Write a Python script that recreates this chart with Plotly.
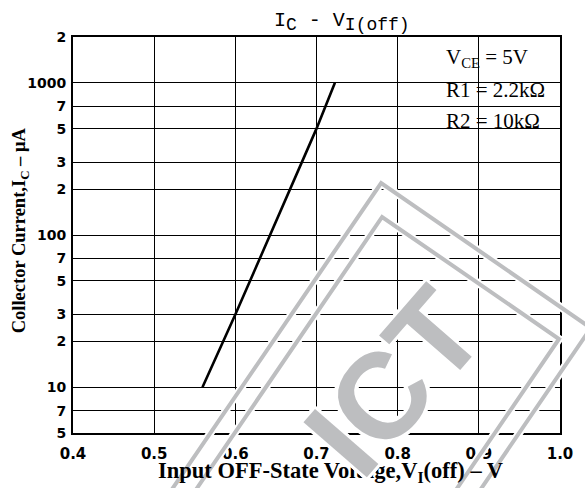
import plotly.graph_objects as go

# ---- data ----
v_off = [0.5595, 0.600, 0.700, 0.7227]   # Input OFF-state voltage (V)
ic_ua = [10, 30, 500, 1000]              # Collector current (uA)

x_ticks = [0.4, 0.5, 0.6, 0.7, 0.8, 0.9, 1.0]
x_tick_text = ["0.4", "0.5", "0.6", "0.7", "0.8", "0.9", "1.0"]
y_ticks = [5, 7, 10, 20, 30, 50, 70, 100, 200, 300, 500, 700, 1000, 2000]
y_tick_text = ["5", "7", "10", "2", "3", "5", "7", "100", "2", "3", "5", "7", "1000", "2"]

cond_lines = ["V<sub>CE</sub> = 5V", "R1 = 2.2kΩ", "R2 = 10kΩ"]

W, H = 585, 488
L, R, T, B = 73, 22, 37, 55
PW, PH = W - L - R, H - T - B


def px(xp):
    return (xp - L) / PW


def py(yp):
    return (H - B - yp) / PH


fig = go.Figure()
fig.add_trace(go.Scatter(x=v_off, y=ic_ua, mode="lines",
                         line=dict(color="black", width=2.6), showlegend=False))

fig.update_xaxes(range=[0.4, 1.0], tickvals=x_ticks, ticktext=x_tick_text,
                 showgrid=True, gridcolor="black", gridwidth=1.3,
                 showline=True, linecolor="black", linewidth=2, mirror=True,
                 ticks="", ticklabelstandoff=6,
                 tickfont=dict(family="DejaVu Sans", size=15, color="black", weight="bold"),
                 zeroline=False)
fig.update_yaxes(type="log", range=[0.69897, 3.30103], tickvals=y_ticks,
                 ticktext=y_tick_text,
                 showgrid=True, gridcolor="black", gridwidth=1.3,
                 showline=True, linecolor="black", linewidth=2, mirror=True,
                 ticks="", ticklabelstandoff=2,
                 tickfont=dict(family="DejaVu Sans", size=14, color="black", weight="bold"),
                 zeroline=False)

shapes = []
# white box behind the test conditions
shapes.append(dict(type="rect", xref="paper", yref="paper", x0=px(442), x1=1.0,
                   y0=py(135), y1=1.0, fillcolor="white", line=dict(width=0),
                   layer="between"))


def path(points):
    return "M " + " L ".join(f"{px(a):.4f},{py(b):.4f}" for a, b in points)


# watermark outlines (decorative)
outer = [(383 - 0.566 * 420, 183 + 0.824 * 420), (383, 183), (594, 328),
         (594 - 0.566 * 300, 328 + 0.824 * 300)]
inner = [(384 - 0.566 * 420, 217 + 0.824 * 420), (384, 217), (562, 339),
         (562 - 0.566 * 300, 339 + 0.824 * 300)]
for pts in (outer, inner):
    shapes.append(dict(type="path", xref="paper", yref="paper", path=path(pts),
                       line=dict(color="white", width=8), layer="above"))
    shapes.append(dict(type="path", xref="paper", yref="paper", path=path(pts),
                       line=dict(color="#bdbec0", width=4), layer="above"))

annotations = []
serif = "Liberation Serif"
annotations.append(dict(xref="paper", yref="paper", x=px(344), y=py(22),
                        xanchor="center", yanchor="middle",
                        text="I<sub><span style='font-size:18px'>C</span></sub> - "
                             "V<sub><span style='font-size:18px'>I(off)</span></sub>",
                        showarrow=False,
                        font=dict(family="Liberation Mono", size=20, color="black")))
annotations.append(dict(xref="paper", yref="paper", x=px(332), y=py(472),
                        xanchor="center", yanchor="middle",
                        text="Input OFF-State Voltage,V<sub>I</sub>(off) – V",
                        showarrow=False,
                        font=dict(family=serif, size=22.5, color="black", weight="bold")))
annotations.append(dict(xref="paper", yref="paper", x=px(20), y=py(230),
                        xanchor="center", yanchor="middle",
                        text="Collector Current,I<sub>C</sub> – μA", textangle=-90,
                        showarrow=False,
                        font=dict(family=serif, size=18.5, color="black", weight="bold")))
for txt, yp in zip(cond_lines, [58, 90, 121]):
    annotations.append(dict(xref="paper", yref="paper", x=px(446), y=py(yp),
                            xanchor="left", yanchor="middle", text=txt, showarrow=False,
                            font=dict(family=serif, size=21, color="black")))
# watermark letters (decorative)
annotations.append(dict(xref="paper", yref="paper", x=px(396), y=py(382),
                        xanchor="center", yanchor="middle",
                        text="ICT", textangle=-49, showarrow=False,
                        font=dict(family="Liberation Sans", size=122, color="#bdbec0",
                                  weight="bold",
                                  shadow="3px 3px 0 #fff, -3px -3px 0 #fff, 3px -3px 0 #fff, -3px 3px 0 #fff")))

fig.update_layout(width=W, height=H, margin=dict(l=L, r=R, t=T, b=B),
                  paper_bgcolor="white", plot_bgcolor="white",
                  shapes=shapes, annotations=annotations, showlegend=False)

fig.write_html("out.html", config={"displayModeBar": False},
               post_script="document.body.style.margin='0px';")
